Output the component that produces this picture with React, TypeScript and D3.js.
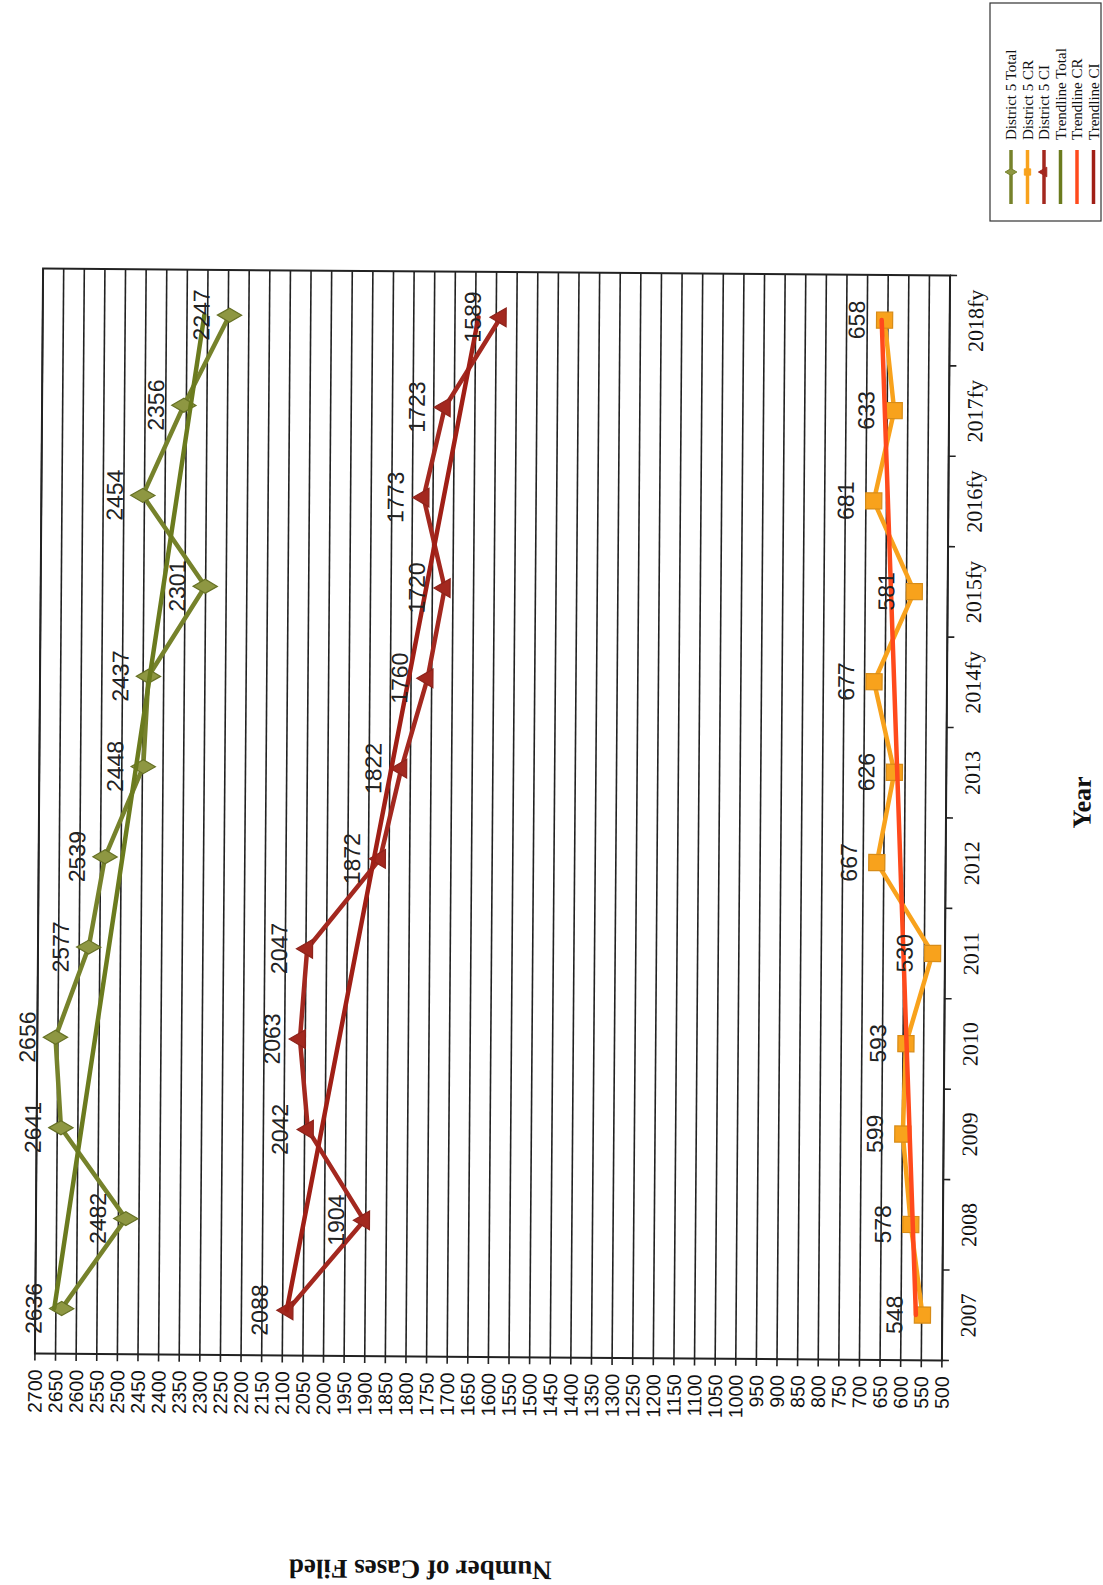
import React from "react";
import * as d3 from "d3";

const categories = ["2007", "2008", "2009", "2010", "2011", "2012", "2013", "2014fy", "2015fy", "2016fy", "2017fy", "2018fy"];
const totalValues = [2636, 2482, 2641, 2656, 2577, 2539, 2448, 2437, 2301, 2454, 2356, 2247];
const crValues = [548, 578, 599, 593, 530, 667, 626, 677, 581, 681, 633, 658];
const ciValues = [2088, 1904, 2042, 2063, 2047, 1872, 1822, 1760, 1720, 1773, 1723, 1589];
// trendline end values (first and last category)
const trendTotal = [2654, 2308];
const trendCR = [564, 665];
const trendCI = [2090, 1643];
const valueTicks = d3.range(500, 2701, 50);
const legendLabels = ["District 5 Total", "District 5 CR", "District 5 CI", "Trendline Total", "Trendline CR", "Trendline CI"];

const W = 1103;
const H = 1585;
const plotLeft = 39;
const plotRight = 946;
const plotTop = 272;
const plotBottom = 1357;
const skew = 0.43;

const C_TOTAL = "#76822b";
const C_TOTAL_FILL = "#8e9742";
const C_CR = "#f8a21c";
const C_CI = "#a3281f";
const C_TT = "#6b7b1e";
const C_TCR = "#ff4a1c";
const C_TCI = "#a01f16";

export default function App() {
  const x = d3.scaleLinear().domain([2700, 500]).range([plotLeft, plotRight]);
  const y = d3.scaleBand<string>().domain(categories).range([plotBottom, plotTop]);
  const cy = (c: string) => (y(c) as number) + y.bandwidth() / 2;

  const line = d3
    .line<[string, number]>()
    .x((d) => x(d[1]))
    .y((d) => cy(d[0]));

  const series = [
    { vals: totalValues, color: C_TOTAL, fill: C_TOTAL_FILL, sym: d3.symbolDiamond, size: 170 },
    { vals: crValues, color: C_CR, fill: C_CR, sym: d3.symbolSquare, size: 260 },
    { vals: ciValues, color: C_CI, fill: C_CI, sym: d3.symbolTriangle, size: 150 },
  ];
  const trends = [
    { vals: trendTotal, color: C_TT },
    { vals: trendCR, color: C_TCR },
    { vals: trendCI, color: C_TCI },
  ];
  const first = categories[0];
  const last = categories[categories.length - 1];

  const legendItems = [
    { color: C_TOTAL, fill: C_TOTAL_FILL, sym: d3.symbolDiamond as any },
    { color: C_CR, fill: C_CR, sym: d3.symbolSquare as any },
    { color: C_CI, fill: C_CI, sym: d3.symbolTriangle as any },
    { color: C_TT, fill: null, sym: null },
    { color: C_TCR, fill: null, sym: null },
    { color: C_TCI, fill: null, sym: null },
  ];

  const bandEdges = categories.map((c) => y(c) as number).concat([plotBottom]);
  const cxr = (plotLeft + plotRight) / 2;
  const cyr = (plotTop + plotBottom) / 2;

  return (
    <svg
      width={W}
      height={H}
      viewBox={`0 0 ${W} ${H}`}
      style={{ position: "absolute", left: 0, top: 0, background: "#fff", display: "block" }}
    >
      <rect x={0} y={0} width={W} height={H} fill="#fff" />
      <g transform={`rotate(${skew},${cxr},${cyr})`}>
        {/* gridlines */}
        {valueTicks.map((v) => (
          <line key={"g" + v} x1={x(v)} x2={x(v)} y1={plotTop} y2={plotBottom + 7} stroke="#222" strokeWidth={1.6} />
        ))}
        {/* plot border */}
        <rect x={plotLeft} y={plotTop} width={plotRight - plotLeft} height={plotBottom - plotTop} fill="none" stroke="#222" strokeWidth={2} />
        {/* category ticks */}
        {bandEdges.map((e, i) => (
          <line key={"ct" + i} x1={plotRight} x2={plotRight + 7} y1={e} y2={e} stroke="#222" strokeWidth={1.6} />
        ))}
        {/* value tick labels */}
        {valueTicks.map((v) => (
          <text
            key={"vt" + v}
            transform={`translate(${x(v)},${plotBottom + 16}) rotate(-90)`}
            textAnchor="end"
            dominantBaseline="central"
            fontFamily="Liberation Sans, Arial, sans-serif"
            fontSize={19.5}
            fill="#111"
          >
            {v}
          </text>
        ))}
        {/* category labels */}
        {categories.map((c) => (
          <text
            key={"cl" + c}
            transform={`translate(${972},${cy(c)}) rotate(-90)`}
            textAnchor="middle"
            dominantBaseline="central"
            fontFamily="Liberation Serif, Times New Roman, serif"
            fontSize={22}
            fill="#111"
          >
            {c}
          </text>
        ))}

        {/* data series */}
        {series.map((s, si) => (
          <g key={"s" + si}>
            <path
              d={line(categories.map((c, i) => [c, s.vals[i]] as [string, number])) as string}
              fill="none"
              stroke={s.color}
              strokeWidth={4.5}
              strokeLinejoin="round"
            />
            {categories.map((c, i) => (
              <path
                key={"m" + i}
                d={d3.symbol().type(s.sym).size(s.size)() as string}
                transform={`translate(${x(s.vals[i])},${cy(c)}) rotate(-90)`}
                fill={s.fill}
                stroke={d3.color(s.color)!.darker(0.4).toString()}
                strokeWidth={1.2}
              />
            ))}
          </g>
        ))}

        {/* trendlines */}
        {trends.map((t, ti) => (
          <line
            key={"t" + ti}
            x1={x(t.vals[0])}
            y1={cy(first)}
            x2={x(t.vals[1])}
            y2={cy(last)}
            stroke={t.color}
            strokeWidth={4.5}
            strokeLinecap="round"
          />
        ))}

        {/* data labels */}
        {series.map((s, si) =>
          categories.map((c, i) => (
            <text
              key={"dl" + si + "_" + i}
              transform={`translate(${x(s.vals[i]) - 20},${cy(c)}) rotate(-90)`}
              textAnchor="middle"
              fontFamily="Liberation Sans, Arial, sans-serif"
              fontSize={23}
              fill="#222"
            >
              {s.vals[i]}
            </text>
          ))
        )}

        {/* axis titles */}
        <text
          transform={`translate(1082,798) rotate(-90)`}
          textAnchor="middle"
          dominantBaseline="central"
          fontFamily="Liberation Serif, Times New Roman, serif"
          fontWeight="bold"
          fontSize={26}
          fill="#111"
        >
          Year
        </text>
        <text
          transform={`translate(426,1570) rotate(180)`}
          textAnchor="middle"
          dominantBaseline="central"
          fontFamily="Liberation Serif, Times New Roman, serif"
          fontWeight="bold"
          fontSize={27}
          fill="#111"
        >
          Number of Cases Filed
        </text>
      </g>

      {/* legend */}
      <rect x={990} y={3} width={111} height={218} fill="#fff" stroke="#333" strokeWidth={1.2} />
      {legendLabels.map((lab, i) => {
        const lx = 1011 + i * 16.5;
        const it = legendItems[i];
        return (
          <g key={"lg" + i}>
            <line x1={lx} x2={lx} y1={150} y2={204} stroke={it.color} strokeWidth={3.5} />
            {it.sym && (
              <path
                d={d3.symbol().type(it.sym).size(40)() as string}
                transform={`translate(${lx},172) rotate(-90)`}
                fill={it.fill as string}
                stroke={it.color}
                strokeWidth={1}
              />
            )}
            <text
              transform={`translate(${lx},140) rotate(-90)`}
              textAnchor="start"
              dominantBaseline="central"
              fontFamily="Liberation Serif, Times New Roman, serif"
              fontSize={15}
              fill="#111"
            >
              {lab}
            </text>
          </g>
        );
      })}
    </svg>
  );
}
